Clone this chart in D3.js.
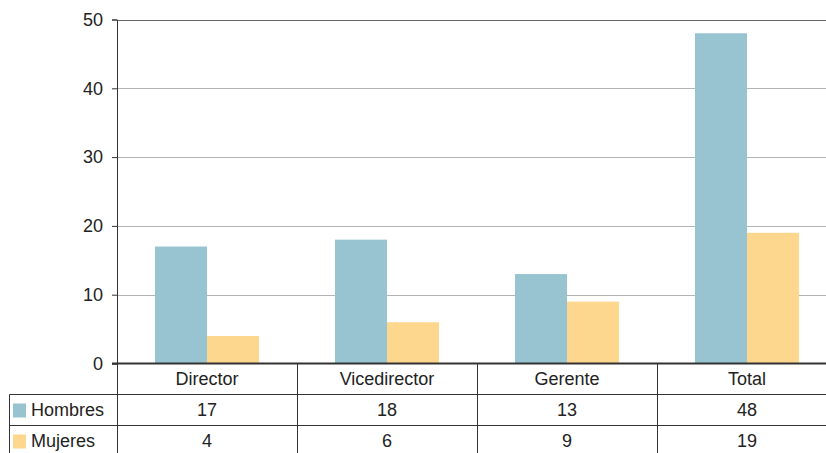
<!DOCTYPE html>
<html><head><meta charset="utf-8">
<script src="https://cdn.jsdelivr.net/npm/d3@7"></script>
<style>body{margin:0;background:#fff;}svg{display:block;font-family:"Liberation Sans",Arial,sans-serif;}</style>
</head><body><svg id="c" width="826" height="453"></svg>
<script>
const categories = ["Director", "Vicedirector", "Gerente", "Total"];
const seriesNames = ["Hombres", "Mujeres"];
const hombres = [17, 18, 13, 48];
const mujeres = [4, 6, 9, 19];
const yTicks = [0, 10, 20, 30, 40, 50];
const colors = ["#98c4d2", "#fed78e"];

(function () {
const svg = d3.select("#c");
const FS = 18;
const pLeft = 117, pRight = 837, pTop = 19.5, pBottom = 363.5;
const x = d3.scaleBand().domain(categories).range([pLeft, pRight]);
const xs = d3.scaleBand().domain(seriesNames).range([0, x.bandwidth()]).paddingOuter(0.73).paddingInner(0);
const y = d3.scaleLinear().domain([0, 50]).range([pBottom, pTop]);
const series = [hombres, mujeres];

// grid
svg.append("g").selectAll("line").data(yTicks.filter(d => d > 0)).join("line")
  .attr("x1", pLeft).attr("x2", pRight).attr("y1", d => Math.round(y(d)) + 0.5).attr("y2", d => Math.round(y(d)) + 0.5)
  .attr("stroke", d => d === 50 ? "#666" : "#b4b4b4").attr("stroke-width", 1);

// bars
series.forEach((vals, si) => {
  svg.append("g").selectAll("rect").data(categories).join("rect")
    .attr("x", c => x(c) + xs(seriesNames[si]))
    .attr("width", xs.bandwidth())
    .attr("y", (c, i) => y(vals[i]))
    .attr("height", (c, i) => y(0) - y(vals[i]))
    .attr("fill", colors[si]);
});

// y axis
const ya = d3.axisLeft(y).tickValues(yTicks).tickSize(5).tickPadding(9).tickFormat(d3.format("d"));
const gy = svg.append("g").attr("transform", `translate(${pLeft},0)`).call(ya);
gy.select(".domain").attr("stroke", "#333").attr("stroke-width", 1);
gy.selectAll(".tick line").attr("stroke", "#333");
gy.selectAll(".tick text").attr("font-size", FS).attr("fill", "#222").attr("font-family", "Liberation Sans, Arial, sans-serif");

// x axis line
svg.append("line").attr("x1", pLeft - 5).attr("x2", pRight).attr("y1", pBottom).attr("y2", pBottom)
  .attr("stroke", "#333").attr("stroke-width", 2);

// table
const rowY = [pBottom, 394.5, 425.5, 456.5];
const tableLeft = 9.5;
const t = svg.append("g").attr("stroke", "#333").attr("stroke-width", 1);
[rowY[1], rowY[2]].forEach(yy => t.append("line").attr("x1", tableLeft).attr("x2", pRight).attr("y1", yy).attr("y2", yy));
t.append("line").attr("x1", tableLeft).attr("x2", tableLeft).attr("y1", rowY[1]).attr("y2", rowY[3]);
categories.concat(["_end"]).forEach((c, i) => {
  const xx = Math.round(pLeft + i * x.bandwidth()) + 0.5;
  t.append("line").attr("x1", xx).attr("x2", xx).attr("y1", pBottom).attr("y2", rowY[3]);
});

const txt = svg.append("g").attr("font-size", FS).attr("fill", "#222").attr("text-anchor", "middle");
txt.selectAll("text.cat").data(categories).join("text").attr("class", "cat")
  .attr("x", c => x(c) + x.bandwidth() / 2).attr("y", 384.5).text(c => c);
series.forEach((vals, si) => {
  const base = (rowY[si + 1] + rowY[si + 2]) / 2 + 6;
  txt.append("g").selectAll("text").data(categories).join("text")
    .attr("x", c => x(c) + x.bandwidth() / 2).attr("y", base)
    .text((c, i) => vals[i]);
  svg.append("rect").attr("x", 13).attr("y", (rowY[si + 1] + rowY[si + 2]) / 2 - 6.5)
    .attr("width", 13).attr("height", 14).attr("fill", colors[si]);
  svg.append("text").attr("x", 31).attr("y", base)
    .attr("font-size", FS).attr("fill", "#222").text(seriesNames[si]);
});
})();
</script></body></html>
